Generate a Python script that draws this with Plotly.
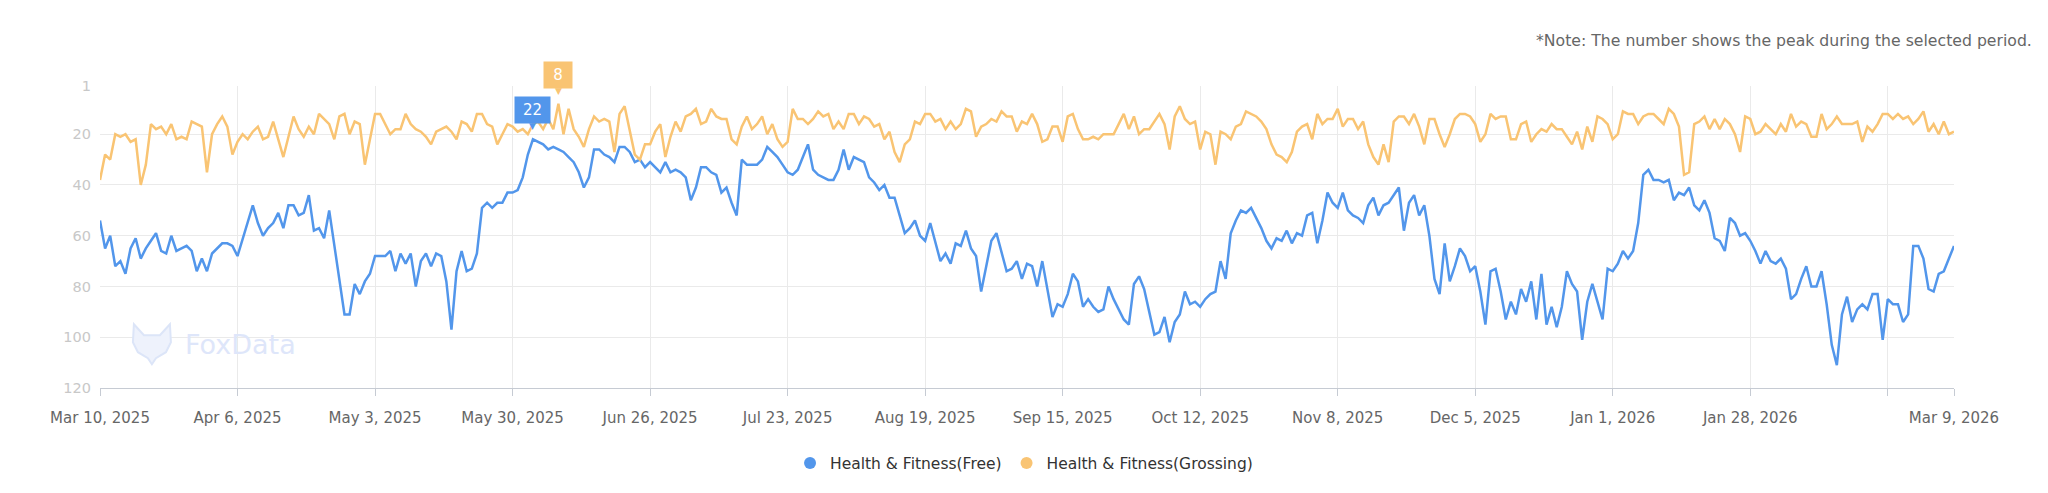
import pandas as pd
import plotly.graph_objects as go

start_date = "2025-03-10"
end_date = "2026-03-09"

free_rank = [
54,65,60,72,70,75,65,61,69,65,62,59,66,67,60,66,65,64,66,74,69,74,67,65,63,63,64,68,61,54,
48,55,60,57,55,51,57,48,48,52,51,44,58,57,61,50,64,78,91,91,79,83,78,75,68,68,68,66,74,67,
71,67,80,70,67,72,67,68,78,97,74,66,74,73,67,49,47,49,47,47,43,43,42,37,28,22,23,24,26,25,
26,27,29,31,35,41,37,26,26,28,29,31,25,25,27,31,30,33,31,33,35,31,35,34,35,37,46,41,33,33,
35,36,43,41,47,52,30,32,32,32,30,25,27,29,32,35,36,34,29,24,34,36,37,38,38,34,26,34,29,30,
31,37,39,42,40,45,45,52,59,57,54,60,62,55,62,70,67,71,63,64,58,65,68,82,72,62,59,67,74,73,
70,77,71,72,80,70,81,92,87,88,83,75,78,88,85,88,90,89,80,85,89,93,95,79,76,81,90,99,98,92,
102,94,91,82,87,86,88,85,83,82,70,77,59,54,50,51,49,53,57,62,65,61,62,58,63,59,60,52,51,63,
54,43,47,49,43,50,52,53,55,48,45,52,48,47,44,41,58,47,44,52,48,60,77,83,63,78,72,65,68,74,
72,82,95,74,73,82,93,86,91,81,86,78,93,75,95,88,96,88,74,79,82,101,86,79,86,93,73,74,71,66,
69,66,55,36,34,38,38,39,38,46,43,44,41,48,50,46,51,61,62,66,53,55,60,59,62,66,71,66,70,71,
69,73,85,83,77,72,80,80,74,87,103,111,91,84,94,89,87,89,83,83,101,85,87,87,94,91,64,64,69,81,
82,75,74,69,64]

grossing_rank = [
38,28,30,20,21,20,23,22,40,32,16,18,17,20,16,22,21,22,15,16,17,35,20,16,13,17,28,23,20,22,
19,17,22,21,15,22,29,21,13,18,21,17,20,12,14,16,22,13,12,20,15,16,32,22,12,12,16,20,18,18,
12,16,18,19,21,24,19,18,17,19,22,15,16,19,12,12,16,17,24,20,16,17,19,18,20,16,15,18,14,18,
8,20,10,18,21,25,18,13,15,14,15,27,12,9,18,28,30,24,24,19,16,29,21,15,19,13,12,10,16,15,
10,13,14,14,22,24,17,13,18,16,13,20,16,22,25,23,10,14,14,16,14,11,13,12,18,15,18,12,12,16,
13,14,17,16,22,19,27,31,24,22,15,16,12,12,15,14,18,15,18,16,10,11,21,17,16,14,15,11,13,13,
19,15,16,12,16,23,22,17,17,23,13,12,18,22,22,21,22,20,20,20,16,12,18,13,20,18,18,15,12,16,
26,13,9,14,16,15,26,19,20,32,19,20,22,17,16,11,12,13,15,18,24,28,29,31,27,19,17,16,22,12,
16,14,14,10,17,14,14,18,15,24,29,32,24,31,15,13,13,16,12,17,24,14,14,20,25,20,14,12,12,13,
16,23,20,12,14,13,13,22,22,16,15,23,20,18,19,16,18,18,21,24,19,26,17,23,13,14,16,22,20,11,
12,12,16,13,12,12,14,16,10,12,17,36,35,16,15,13,18,14,18,14,16,20,27,13,14,20,19,16,18,20,
16,19,12,17,15,16,21,21,12,18,16,13,16,16,16,15,23,17,19,16,12,12,14,12,14,13,16,14,11,19,
16,20,15,20,19]

tick_dates = ["2025-03-10","2025-04-06","2025-05-03","2025-05-30","2025-06-26","2025-07-23",
              "2025-08-19","2025-09-15","2025-10-12","2025-11-08","2025-12-05","2026-01-01",
              "2026-01-28","2026-02-24","2026-03-09"]
tick_labels = ["Mar 10, 2025","Apr 6, 2025","May 3, 2025","May 30, 2025","Jun 26, 2025",
               "Jul 23, 2025","Aug 19, 2025","Sep 15, 2025","Oct 12, 2025","Nov 8, 2025",
               "Dec 5, 2025","Jan 1, 2026","Jan 28, 2026","","Mar 9, 2026"]
y_ticks = [1, 20, 40, 60, 80, 100, 120]

series_names = ["Health & Fitness(Free)", "Health & Fitness(Grossing)"]
colors = ["#5296EB", "#F9C473"]

FONT = "DejaVu Sans"

dates = pd.date_range(start_date, end_date, freq="D")

fig = go.Figure()
for name, vals, col in zip(series_names, [free_rank, grossing_rank], colors):
    fig.add_trace(go.Scatter(x=dates, y=vals, mode="lines", name=name,
                             line=dict(color=col, width=2.5), showlegend=False))
for name, col in zip(series_names, colors):
    fig.add_trace(go.Scatter(x=[None], y=[None], mode="markers", name=name,
                             marker=dict(color=col, size=12, symbol="circle")))


def peak_label(vals, col, text_w):
    v = min(vals)
    d = dates[vals.index(v)]
    fig.add_annotation(x=d, y=v, text=str(v), showarrow=False, yanchor="bottom",
                       yshift=15, bgcolor=col, borderpad=4, width=text_w,
                       font=dict(color="white", size=15, family=FONT))
    fig.add_annotation(x=d, y=v, text="\u25BC", showarrow=False, yanchor="middle",
                       yshift=13, font=dict(color=col, size=9, family=FONT))


peak_label(free_rank, colors[0], 27)
peak_label(grossing_rank, colors[1], 20)

fig.add_annotation(xref="paper", yref="paper", x=1.043, y=1.15, xanchor="right",
                   yanchor="middle", showarrow=False,
                   text="*Note: The number shows the peak during the selected period.",
                   font=dict(size=15.7, color="#666666", family=FONT))

# watermark: simple fox-head mark + brand text
fox_path = ("M -18,20 L -8,9 L 8,9 L 18,20 L 19,2 L 14,-8 L 4,-14 L 0,-20 "
            "L -4,-14 L -14,-8 L -19,2 Z")
fig.add_shape(type="path", xref="paper", yref="paper", xsizemode="pixel",
              ysizemode="pixel", xanchor=0.028, yanchor=0.145, path=fox_path,
              fillcolor="#EEF2FC", line=dict(color="#DCE5F8", width=2), layer="above")
fig.add_annotation(xref="paper", yref="paper", x=0.0448, y=0.145, xanchor="left",
                   yanchor="middle", showarrow=False, text="FoxData",
                   font=dict(size=27, color="#DEE6FA", family=FONT))

fig.update_layout(
    width=2040, height=485,
    margin=dict(l=92, r=94, t=78, b=103),
    paper_bgcolor="white", plot_bgcolor="white",
    font=dict(family=FONT, size=15, color="#666666"),
    legend=dict(orientation="h", x=0.4984, y=-0.25, xanchor="center", yanchor="middle",
                font=dict(size=15.5, color="#333333", family=FONT)),
    xaxis=dict(range=[dates[0], dates[-1]], tickvals=tick_dates, ticktext=tick_labels,
               showgrid=True, gridcolor="#EAEAEA", gridwidth=1,
               showline=True, linecolor="#C6CBD3", linewidth=1,
               ticks="outside", ticklen=7, tickcolor="#C6CBD3", ticklabelstandoff=9,
               tickfont=dict(size=15, color="#666666", family=FONT), zeroline=False),
    yaxis=dict(range=[120, 1], tickvals=y_ticks, showgrid=True, gridcolor="#EAEAEA",
               gridwidth=1, zeroline=False, ticks="", ticklabelstandoff=8,
               tickfont=dict(size=14.5, color="#C8C8C8", family=FONT)),
)

fig.write_html("out.html")
